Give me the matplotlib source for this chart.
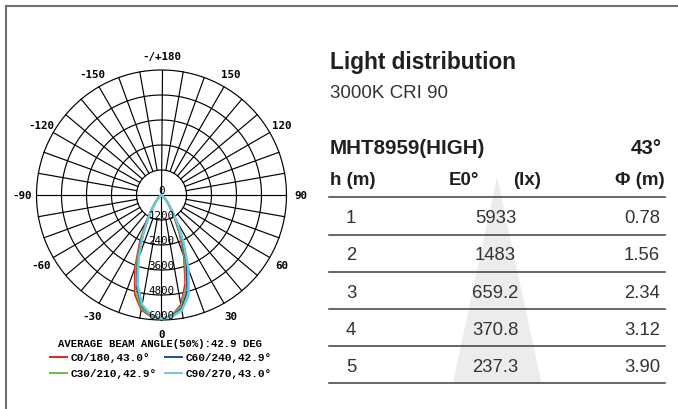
import numpy as np
import matplotlib
matplotlib.use("Agg")
import matplotlib.pyplot as plt
from matplotlib.lines import Line2D
from matplotlib.patches import Polygon

W, H = 678, 410

# ---------------- data ----------------
gamma_deg = [0, 5, 10, 15, 20, 25, 30, 35, 40, 45, 50, 60, 70, 80, 90]
c0_right   = [5933, 5800, 5350, 4400, 3150, 2050, 1200, 650, 380, 200, 80, 10, 0, 0, 0]
c180_left  = [5933, 5850, 5600, 4950, 3750, 2450, 1450, 800, 480, 260, 110, 15, 0, 0, 0]
c30_right  = [5933, 5820, 5420, 4550, 3300, 2150, 1270, 700, 410, 220, 90, 10, 0, 0, 0]
c210_left  = [5933, 5830, 5530, 4800, 3550, 2300, 1380, 760, 450, 240, 100, 12, 0, 0, 0]
c60_right  = [5933, 5830, 5530, 4780, 3520, 2300, 1370, 760, 450, 240, 100, 12, 0, 0, 0]
c240_left  = [5933, 5800, 5430, 4600, 3350, 2180, 1300, 720, 420, 225, 90, 10, 0, 0, 0]
c90_right  = [5933, 5860, 5620, 5000, 3800, 2480, 1470, 820, 490, 265, 115, 15, 0, 0, 0]
c270_left  = [5933, 5780, 5350, 4450, 3200, 2080, 1230, 680, 400, 210, 85, 10, 0, 0, 0]

series_labels = ["C0/180,43.0°", "C30/210,42.9°", "C60/240,42.9°", "C90/270,43.0°"]
series_colors = ["#e8201e", "#6cbd45", "#1d4e9e", "#72c7d8"]
series_widths = [1.3, 1.3, 1.3, 1.8]
series_left = [c180_left, c210_left, c240_left, c270_left]
series_right = [c0_right, c30_right, c60_right, c90_right]

ring_values = [1200, 2400, 3600, 4800, 6000]
angle_ticks = [0, 30, 60, 90, 120, 150, 180, -150, -120, -90, -60, -30]
angle_labels = ["0", "30", "60", "90", "120", "150", "-/+180", "-150", "-120", "-90", "-60", "-30"]
beam_title = "AVERAGE BEAM ANGLE(50%):42.9 DEG"

title = "Light distribution"
subtitle = "3000K CRI 90"
model = "MHT8959(HIGH)"
beam = "43°"
col_headers = ["h (m)", "E0°", "(lx)", "Φ (m)"]
heights = ["1", "2", "3", "4", "5"]
lux = ["5933", "1483", "659.2", "370.8", "237.3"]
diam = ["0.78", "1.56", "2.34", "3.12", "3.90"]

# ---------------- figure ----------------
fig = plt.figure(figsize=(W / 100, H / 100), dpi=100)
fig.patch.set_facecolor("white")


def fx(x):
    return x / W


def fy(y):
    return 1 - y / H


# frame
fig.add_artist(Line2D([fx(6), fx(678)], [fy(7), fy(7)], color="#707070", lw=1.5))
fig.add_artist(Line2D([fx(6), fx(6)], [fy(7), fy(410)], color="#707070", lw=1.5))

# ---------------- polar chart ----------------
cx, cy, R = 161.5, 196, 125
ax = fig.add_axes([fx(cx - R), fy(cy + R), 2 * R / W, 2 * R / H], projection="polar")
ax.set_theta_zero_location("S")
ax.set_theta_direction(1)
ax.set_ylim(0, 6000)
ax.set_axis_off()

rmax = ring_values[-1]
# radial lines
for a in range(0, 360, 10):
    t = np.deg2rad(a)
    r0 = 0 if a % 90 == 0 else ring_values[0]
    ax.plot([t, t], [r0, rmax], color="black", lw=0.85, clip_on=False, zorder=1)
# rings
tt = np.linspace(0, 2 * np.pi, 400)
for rv in ring_values:
    ax.plot(tt, np.full_like(tt, rv), color="black", lw=0.85, clip_on=False, zorder=1)

# curves
g = np.array(gamma_deg, dtype=float)
for lab, col, lw, left, right in zip(series_labels, series_colors, series_widths,
                                     series_left, series_right):
    th = np.deg2rad(np.concatenate([-g[::-1], g[1:]]))
    rr = np.concatenate([np.array(left)[::-1], np.array(right)[1:]])
    ax.plot(th, rr, color=col, lw=lw, clip_on=False, zorder=3)

# ring labels
ax.text(0, 0, "0", ha="center", va="bottom", fontsize=7.8,
        family="DejaVu Sans Mono", zorder=5)
for rv in ring_values:
    ax.text(0, rv, str(rv), ha="center", va="bottom", fontsize=7.8,
            family="DejaVu Sans Mono", zorder=5)

# angle labels
for a, s in zip(angle_ticks, angle_labels):
    ax.text(np.deg2rad(a), 6680, s, ha="center", va="center", fontsize=7.8,
            family="DejaVu Sans Mono", fontweight="bold", clip_on=False)

# beam angle title and legend
fig.text(fx(160.5), fy(344), beam_title, ha="center", va="center", fontsize=7.7,
         family="Liberation Mono", fontweight="bold")
leg_pos = [(50, 358.3), (50, 374), (165, 358.3), (165, 374)]
for (lx, ly), lab, col in zip(leg_pos, series_labels, series_colors):
    fig.add_artist(Line2D([fx(lx), fx(lx + 16.7)], [fy(ly), fy(ly)], color=col, lw=1.4))
    fig.text(fx(lx + 20.5), fy(ly), lab, ha="left", va="center", fontsize=8,
             family="Liberation Mono", fontweight="bold")

# ---------------- right panel ----------------
sans = "Liberation Sans"
dark = "#231f20"
grey_text = "#333333"

# background triangle
tri = Polygon([[fx(497), fy(178)], [fx(453), fy(384)], [fx(541.5), fy(384)]],
              closed=True, transform=fig.transFigure, facecolor="#ececec",
              edgecolor="none", zorder=0)
fig.add_artist(tri)

fig.text(fx(330), fy(69.5), title, ha="left", va="baseline", fontsize=16.3,
         family=sans, fontweight="bold", color=dark)
fig.text(fx(330), fy(98.5), subtitle, ha="left", va="baseline", fontsize=13.5,
         family=sans, color=grey_text)
fig.text(fx(330), fy(154), model, ha="left", va="baseline", fontsize=14.8,
         family=sans, fontweight="bold", color=dark)
fig.text(fx(662), fy(154), beam, ha="right", va="baseline", fontsize=14.8,
         family=sans, fontweight="bold", color=dark)

hdr_y = 185.5
fig.text(fx(330), fy(hdr_y), col_headers[0], ha="left", va="baseline", fontsize=13.5,
         family=sans, fontweight="bold", color=dark)
fig.text(fx(449), fy(hdr_y), col_headers[1], ha="left", va="baseline", fontsize=13.5,
         family=sans, fontweight="bold", color=dark)
fig.text(fx(513), fy(hdr_y), col_headers[2], ha="left", va="baseline", fontsize=13.5,
         family=sans, fontweight="bold", color=dark)
fig.text(fx(665), fy(hdr_y), col_headers[3], ha="right", va="baseline", fontsize=13.5,
         family=sans, fontweight="bold", color=dark)

line_ys = [198, 235.5, 272.7, 310, 347, 384]
for ly in line_ys:
    fig.add_artist(Line2D([fx(329), fx(665)], [fy(ly), fy(ly)], color="#3c3c3c", lw=1.1))

row_base = [223.3, 260.5, 297.7, 334.9, 372.1]
for yb, hv, lv, dv in zip(row_base, heights, lux, diam):
    fig.text(fx(346), fy(yb), hv, ha="left", va="baseline", fontsize=13.3,
             family=sans, color=grey_text)
    fig.text(fx(495.5), fy(yb), lv, ha="center", va="baseline", fontsize=13.3,
             family=sans, color=grey_text)
    fig.text(fx(660), fy(yb), dv, ha="right", va="baseline", fontsize=13.3,
             family=sans, color=grey_text)

fig.savefig("out.png", dpi=100)
